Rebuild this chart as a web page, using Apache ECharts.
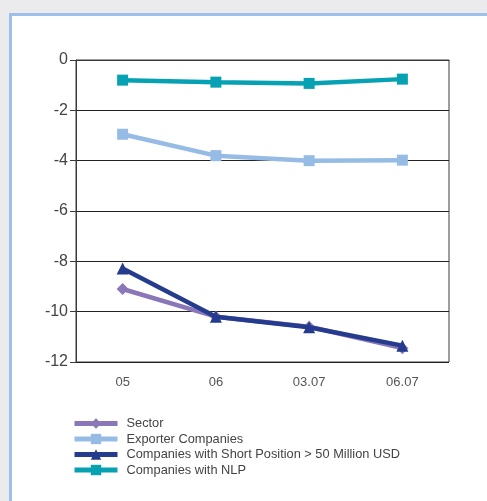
<!DOCTYPE html>
<html>
<head>
<meta charset="utf-8">
<script src="https://cdn.jsdelivr.net/npm/echarts@6/dist/echarts.min.js"></script>
<style>
  html, body { margin: 0; padding: 0; background: #ebebed; }
  #chart { width: 487px; height: 501px; }
</style>
</head>
<body>
<div id="chart"></div>
<script>
// Periods on the horizontal axis
const categories = ['05', '06', '03.07', '06.07'];

// Series values
const sector = [-9.1, -10.2, -10.6, -11.45];
const exporters = [-2.95, -3.8, -4.0, -3.98];
const shortPosition = [-8.28, -10.2, -10.62, -11.35];
const nlp = [-0.8, -0.88, -0.93, -0.76];

const seriesNames = [
  'Sector',
  'Exporter Companies',
  'Companies with Short Position > 50 Million USD',
  'Companies with NLP'
];

// Y axis range and step
const yMin = -12;
const yMax = 0;
const yStep = 2;

const colors = ['#8a77b8', '#96bce6', '#253b8d', '#06a1b3'];
const symbols = ['diamond', 'rect', 'triangle', 'rect'];
const symbolSizes = [12, 11, 12, 11];
const dataSets = [sector, exporters, shortPosition, nlp];

const chart = echarts.init(document.getElementById('chart'));

const series = dataSets.map((values, i) => ({
  name: seriesNames[i],
  type: 'line',
  data: values,
  symbol: symbols[i],
  symbolSize: symbolSizes[i],
  showSymbol: true,
  lineStyle: { color: colors[i], width: 4.5 },
  itemStyle: { color: colors[i] },
  z: i === 2 ? 4 : 3
}));

chart.setOption({
  animation: false,
  backgroundColor: '#ebebed',
  color: colors,
  graphic: [{
    type: 'rect',
    left: 9,
    top: 13,
    shape: { width: 490, height: 500 },
    style: { fill: '#ffffff', stroke: '#9cc0e8', lineWidth: 3 },
    z: -10,
    silent: true
  }],
  grid: {
    left: 76,
    right: 38,
    top: 60,
    bottom: 139,
    show: true,
    borderColor: '#3a3a3a',
    borderWidth: 1,
    backgroundColor: 'transparent'
  },
  xAxis: {
    type: 'category',
    data: categories,
    boundaryGap: true,
    axisLine: { show: true, lineStyle: { color: '#3a3a3a', width: 1 } },
    axisTick: { show: false },
    axisLabel: {
      color: '#555',
      fontSize: 13,
      fontFamily: 'Liberation Sans',
      margin: 14
    },
    splitLine: { show: false }
  },
  yAxis: {
    type: 'value',
    min: yMin,
    max: yMax,
    interval: yStep,
    axisLine: { show: true, lineStyle: { color: '#3a3a3a', width: 1 } },
    axisTick: { show: true, length: 6, lineStyle: { color: '#3a3a3a' } },
    axisLabel: {
      color: '#444',
      fontSize: 16,
      fontFamily: 'Liberation Sans',
      margin: 8
    },
    splitLine: { show: true, lineStyle: { color: '#222', width: 1 } }
  },
  legend: {
    orient: 'vertical',
    left: 67,
    top: 412,
    itemWidth: 43,
    itemHeight: 13,
    itemGap: 2.5,
    data: seriesNames,
    lineStyle: { width: 5 },
    textStyle: {
      color: '#444',
      fontSize: 12.8,
      fontFamily: 'Liberation Sans',
      padding: [0, 0, 0, 4]
    }
  },
  series: series
});
</script>
</body>
</html>
